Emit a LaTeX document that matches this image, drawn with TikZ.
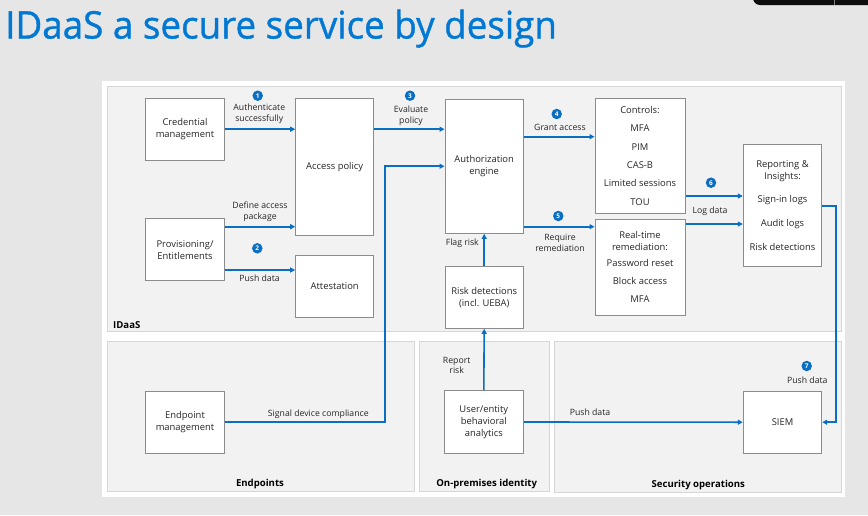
\documentclass[tikz,border=0pt]{standalone}
\usepackage{fontspec}
\setmainfont{Open Sans}
\usetikzlibrary{arrows.meta,calc}
\definecolor{msblue}{HTML}{0078D4}
\definecolor{arrblue}{HTML}{0A6EC2}
\definecolor{slidebg}{HTML}{E6E6E6}
\definecolor{panelbg}{HTML}{F2F2F2}
\definecolor{panelln}{HTML}{D6D6D6}
\definecolor{boxln}{HTML}{8C8C8C}
\definecolor{txt}{HTML}{262626}
\begin{document}
\begin{tikzpicture}[x=1pt,y=-1pt,
  panel/.style={fill=panelbg,draw=panelln,line width=0.8pt},
  box/.style={draw=boxln,fill=white,line width=1pt,align=center,inner sep=1pt,
    font=\fontsize{9.4}{12}\selectfont,text=txt},
  lbl/.style={font=\fontsize{8.7}{10.8}\selectfont,text=txt,align=center,inner sep=0pt},
  plbl/.style={font=\bfseries\fontsize{9.6}{11}\selectfont,text=black,inner sep=0pt},
  arr/.style={draw=arrblue,line width=1.6pt,-{Triangle[length=5pt,width=5pt]}},
  badge/.style={circle,fill=arrblue,text=white,inner sep=0pt,minimum size=10.5pt,
    font=\bfseries\fontsize{6.5}{7}\selectfont}]
\useasboundingbox (0,0) rectangle (868,515);
\fill[slidebg] (0,0) rectangle (868,515);
% top-right dark shape
\fill[black!95,rounded corners=7pt] (753,-12) -- (753,5) -- (880,5) -- (880,-12) -- cycle;
\draw[gray,line width=0.6pt] (834,0) -- (834,5);
% title
\node[anchor=base west,inner sep=0pt,text=msblue,font=\fontsize{38}{40}\selectfont] (title) at (5,38.5) {\addfontfeature{FakeBold=1}\scalebox{0.968}[1]{IDaaS a secure service by design}};
% white sheet and panels
\fill[white] (102,81) rectangle (845,497);
\draw[panel] (107,86) rectangle (841.7,331.7);
\draw[panel] (107.3,341) rectangle (414.3,491.7);
\draw[panel] (419.3,341) rectangle (549.3,491.7);
\draw[panel] (554.3,341.7) rectangle (841.7,492.7);
\node[plbl,anchor=base west] (lidaas) at (113,328.5) {IDaaS};
\node[plbl,anchor=base] (lend) at (260,486.5) {Endpoints};
\node[plbl,anchor=base] (lonp) at (486.7,486.5) {On-premises identity};
\node[plbl,anchor=base] (lsec) at (698.3,487.5) {Security operations};
% boxes
\node[box,minimum width=78.6pt,minimum height=61.7pt] (cred) at (185,129.2) {Credential\\management};
\node[box,minimum width=78.6pt,minimum height=61.7pt] (prov) at (185,249.8) {Provisioning/\\Entitlements};
\node[box,minimum width=78pt,minimum height=136.7pt] (ap) at (334.7,167.3) {Access policy};
\node[box,minimum width=78pt,minimum height=62pt] (att) at (334.7,286) {Attestation};
\node[box,minimum width=78.3pt,minimum height=134.3pt] (auth) at (484.2,166.2) {Authorization\\engine};
\node[box,minimum width=78.3pt,minimum height=61.6pt] (risk) at (484.2,297.5) {Risk detections\\(incl. UEBA)};
\node[box,minimum width=90pt,minimum height=115pt] (ctrl) at (640,155.8)
  {Controls:\\[6.3pt]MFA\\[6.3pt]PIM\\[6.3pt]CAS-B\\[6.3pt]Limited sessions\\[6.3pt]TOU};
\node[box,minimum width=90pt,minimum height=95.7pt] (rem) at (640,267.2)
  {Real-time\\remediation:\\[3.6pt]Password reset\\[6.3pt]Block access\\[6.3pt]MFA};
\node[box,minimum width=78.4pt,minimum height=121.7pt] (rep) at (782.5,205.8)
  {Reporting \&\\Insights:\\[11.5pt]Sign-in logs\\[12pt]Audit logs\\[12pt]Risk detections};
\node[box,minimum width=78.6pt,minimum height=62.3pt] (ep) at (185,422.2) {Endpoint\\management};
\node[box,minimum width=79pt,minimum height=62.6pt] (ueba) at (483.8,422) {User/entity\\behavioral\\analytics};
\node[box,minimum width=78.4pt,minimum height=62.3pt] (siem) at (782.5,422.2) {SIEM};
% helper coordinates
\coordinate (sig) at (385,0);
\coordinate (sx) at (835.7,0);
\coordinate (yg) at (0,136.7);
\coordinate (yr) at (0,226.7);
\coordinate (yp) at (0,270);
\coordinate (yl1) at (0,196);
\coordinate (yl2) at (0,224);
% connectors
\draw[arr] (cred.east) -- (ap.west |- cred.east);
\draw[arr] (ap.east |- cred.east) -- (auth.west |- cred.east);
\draw[arr] (prov.east |- yr) -- (ap.west |- yr);
\draw[arr] (prov.east |- yp) -- (att.west |- yp);
\draw[arr] (auth.east |- yg) -- (ctrl.west |- yg);
\draw[arr] (auth.east |- yr) -- (rem.west |- yr);
\draw[arr] (ctrl.east |- yl1) -- (rep.west |- yl1);
\draw[arr] (rem.east |- yl2) -- (rep.west |- yl2);
\draw[arr] (risk.north) -- (auth.south);
\draw[arr] (ueba.north) -- (risk.south);
\draw[arr] (ueba.east) -- (siem.west);
\draw[arr] (ep.east) -| (sig |- auth.west) -- (auth.west);
\draw[arr] (rep.east) -| (sx |- siem.east) -- (siem.east);
% labels
\node[lbl] (l1) at (259.3,113.5) {Authenticate\\successfully};
\node[lbl] (l2) at (260,211.5) {Define access\\package};
\node[lbl] (l3) at (259.5,278.7) {Push data};
\node[lbl] (l4) at (411,116) {Evaluate\\policy};
\node[lbl] (l5) at (560,127.3) {Grant access};
\node[lbl] (l6) at (560,243) {Require\\remediation};
\node[lbl,anchor=east] (l7) at (479,243.3) {Flag risk};
\node[lbl] (l8) at (710,211.7) {Log data};
\node[lbl] (l9) at (456.7,365.5) {Report\\risk};
\node[lbl] (l10) at (318.3,414) {Signal device compliance};
\node[lbl] (l11) at (590,412.3) {Push data};
\node[lbl] (l12) at (807.3,380) {Push data};
% badges
\node[badge] (b1) at (257.7,95.7) {1};
\node[badge] (b2) at (257.3,248.3) {2};
\node[badge] (b3) at (410,95.7) {3};
\node[badge] (b4) at (556.7,114) {4};
\node[badge] (b5) at (558.3,216) {5};
\node[badge] (b6) at (711,182.7) {6};
\node[badge] (b7) at (806.7,366) {7};
\end{tikzpicture}
\end{document}
